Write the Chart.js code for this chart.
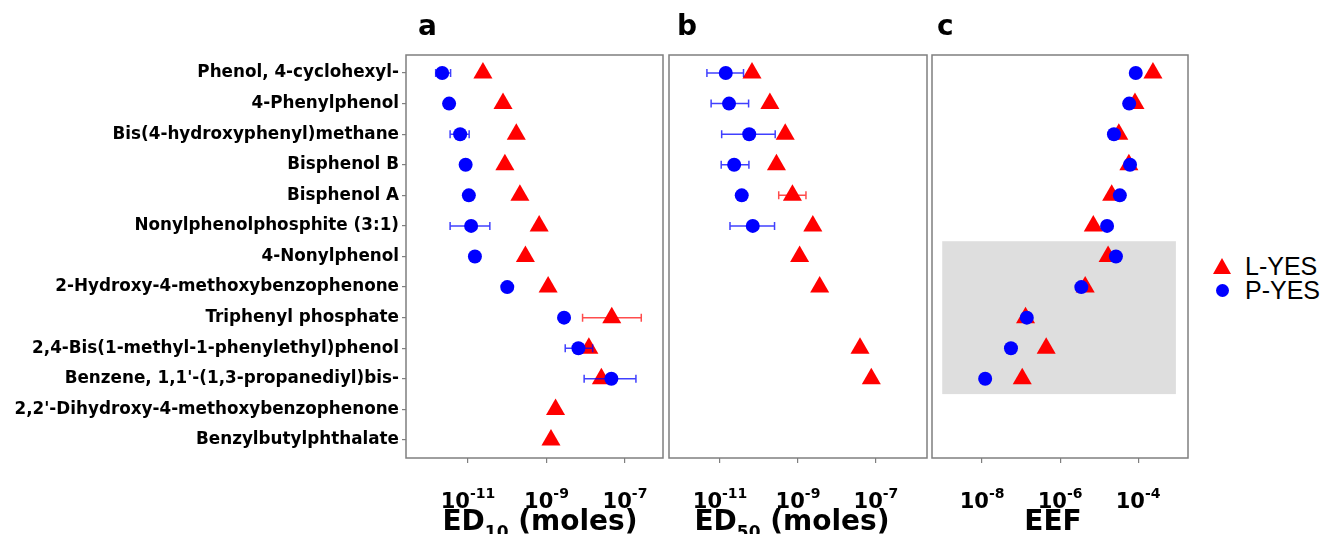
<!DOCTYPE html>
<html>
<head>
<meta charset="utf-8">
<script src="https://cdn.jsdelivr.net/npm/chart.js@4.4.1/dist/chart.umd.min.js"></script>
<style>
  html, body { margin: 0; padding: 0; background: #fff; }
  body { width: 1325px; height: 534px; position: relative; overflow: hidden; }
  canvas { position: absolute; top: 0; }
  .letter { position: absolute; top: 12px; font: bold 28px "DejaVu Sans"; line-height: 28px; }
  .xtitle { position: absolute; top: 507px; text-align: center; font: bold 28px "DejaVu Sans"; line-height: 28px; white-space: nowrap; }
  .xtitle sub { font-size: 17px; vertical-align: baseline; position: relative; top: 8px; }
  #legend { position: absolute; left: 1212px; top: 254px; font: 25px "Liberation Sans"; }
  #legend .row { display: flex; align-items: center; height: 24px; }
  #legend .mark { width: 20px; display: flex; justify-content: center; margin-right: 13px; }
  .tri { width: 0; height: 0; border-left: 9px solid transparent; border-right: 9px solid transparent; border-bottom: 16px solid #ff0000; }
  .dot { width: 13px; height: 13px; border-radius: 50%; background: #0000ff; }
</style>
</head>
<body>
<canvas id="panelA" width="670" height="534" style="left:0px"></canvas>
<canvas id="panelB" width="264" height="534" style="left:666px"></canvas>
<canvas id="panelC" width="262" height="534" style="left:929px"></canvas>

<div class="letter" style="left:418px">a</div>
<div class="letter" style="left:677px">b</div>
<div class="letter" style="left:937px">c</div>

<div class="xtitle" style="left:411px; width:258px">ED<sub>10</sub> (moles)</div>
<div class="xtitle" style="left:663px; width:258px">ED<sub>50</sub> (moles)</div>
<div class="xtitle" style="left:925px; width:256px">EEF</div>

<div id="legend">
  <div class="row"><div class="mark"><div class="tri"></div></div>L-YES</div>
  <div class="row"><div class="mark"><div class="dot"></div></div>P-YES</div>
</div>

<script>
const categories = [
  'Phenol, 4-cyclohexyl-',
  '4-Phenylphenol',
  'Bis(4-hydroxyphenyl)methane',
  'Bisphenol B',
  'Bisphenol A',
  'Nonylphenolphosphite (3:1)',
  '4-Nonylphenol',
  '2-Hydroxy-4-methoxybenzophenone',
  'Triphenyl phosphate',
  '2,4-Bis(1-methyl-1-phenylethyl)phenol',
  "Benzene, 1,1'-(1,3-propanediyl)bis-",
  "2,2'-Dihydroxy-4-methoxybenzophenone",
  'Benzylbutylphthalate'
];

// panel a: ED10 (moles)
const ed10L = [2.4e-11, 7.8e-11, 1.7e-10, 8.7e-11, 2.1e-10, 6.5e-10, 2.9e-10, 1.1e-9, 4.6e-8, 1.2e-8, 2.5e-8, 1.7e-9, 1.3e-9];
const ed10P = [2.2e-12, 3.3e-12, 6.3e-12, 8.7e-12, 1.05e-11, 1.2e-11, 1.5e-11, 1.0e-10, 2.8e-9, 6.5e-9, 4.5e-8, null, null];
const ed10LLo = [null, null, null, null, null, null, null, null, 8.3e-9, null, null, null, null];
const ed10LHi = [null, null, null, null, null, null, null, null, 2.6e-7, null, null, null, null];
const ed10PLo = [1.5e-12, null, 3.5e-12, null, null, 3.5e-12, null, null, null, 3.0e-9, 9.1e-9, null, null];
const ed10PHi = [3.6e-12, null, 1.07e-11, null, null, 3.6e-11, null, null, null, 1.5e-8, 1.9e-7, null, null];

// panel b: ED50 (moles)
const ed50L = [6.6e-11, 1.9e-10, 4.7e-10, 2.8e-10, 7.2e-10, 2.4e-9, 1.1e-9, 3.6e-9, null, 3.9e-8, 7.6e-8, null, null];
const ed50P = [1.4e-11, 1.7e-11, 5.6e-11, 2.3e-11, 3.6e-11, 6.9e-11, null, null, null, null, null, null, null];
const ed50LLo = [null, null, null, null, 3.2e-10, null, null, null, null, null, null, null, null];
const ed50LHi = [null, null, null, null, 1.6e-9, null, null, null, null, null, null, null, null];
const ed50PLo = [4.6e-12, 5.9e-12, 1.1e-11, 1.07e-11, null, 1.8e-11, null, null, null, null, null, null, null];
const ed50PHi = [4.0e-11, 5.4e-11, 2.6e-10, 5.5e-11, null, 2.5e-10, null, null, null, null, null, null, null];

// panel c: EEF
const eefL = [2.4e-4, 8.3e-5, 3.2e-5, 5.8e-5, 2.1e-5, 7.1e-6, 1.7e-5, 4.4e-6, 1.3e-7, 4.4e-7, 1.07e-7, null, null];
const eefP = [8.7e-5, 5.9e-5, 2.4e-5, 6.2e-5, 3.4e-5, 1.6e-5, 2.7e-5, 3.5e-6, 1.4e-7, 5.5e-8, 1.2e-8, null, null];

// shaded block in panel c (rows 7-11)
const shadeRows = [6.5, 11.5];
const shadeEEF = [9.5e-10, 9.3e-4];

const tickExpAB = [-11, -9, -7];
const tickExpC = [-8, -6, -4];

const RED = '#ff0000';
const BLUE = '#0000ff';
const FRAME = '#7f7f7f';

function toPoints(vals) {
  return vals.map((v, i) => v == null ? null : { x: v, y: i + 1 }).filter(p => p);
}

function makePanel(id, cfg) {
  const errorBars = {
    id: 'errorBars',
    afterDatasetsDraw(chart) {
      const ctx = chart.ctx, xs = chart.scales.x, ys = chart.scales.y;
      ctx.save();
      ctx.lineWidth = 1.5;
      cfg.bars.forEach(set => {
        ctx.strokeStyle = set.color;
        set.lo.forEach((lo, i) => {
          const hi = set.hi[i];
          if (lo == null || hi == null) return;
          const y = ys.getPixelForValue(i + 1);
          const x1 = xs.getPixelForValue(lo);
          const x2 = xs.getPixelForValue(hi);
          ctx.beginPath();
          ctx.moveTo(x1, y); ctx.lineTo(x2, y);
          ctx.moveTo(x1, y - 4); ctx.lineTo(x1, y + 4);
          ctx.moveTo(x2, y - 4); ctx.lineTo(x2, y + 4);
          ctx.stroke();
        });
      });
      ctx.restore();
    }
  };

  const shade = {
    id: 'shade',
    beforeDatasetsDraw(chart) {
      if (!cfg.shade) return;
      const ctx = chart.ctx, xs = chart.scales.x, ys = chart.scales.y;
      const x1 = xs.getPixelForValue(shadeEEF[0]), x2 = xs.getPixelForValue(shadeEEF[1]);
      const y1 = ys.getPixelForValue(shadeRows[0]), y2 = ys.getPixelForValue(shadeRows[1]);
      ctx.save();
      ctx.fillStyle = '#dedede';
      ctx.fillRect(x1, y1, x2 - x1, y2 - y1);
      ctx.restore();
    }
  };

  // frame + "10^n" tick labels
  const frame = {
    id: 'frame',
    afterDraw(chart) {
      const ctx = chart.ctx, a = chart.chartArea, xs = chart.scales.x;
      ctx.save();
      ctx.strokeStyle = FRAME;
      ctx.lineWidth = 1.5;
      ctx.strokeRect(a.left, a.top, a.right - a.left, a.bottom - a.top);
      ctx.fillStyle = '#000';
      ctx.textBaseline = 'alphabetic';
      cfg.exps.forEach(e => {
        const x = xs.getPixelForValue(Math.pow(10, e));
        const sup = String(e);
        ctx.font = 'bold 21px "DejaVu Sans"';
        const w1 = ctx.measureText('10').width;
        ctx.font = 'bold 14px "DejaVu Sans"';
        const w2 = ctx.measureText(sup).width;
        const x0 = x - (w1 + w2) / 2;
        ctx.font = 'bold 21px "DejaVu Sans"';
        ctx.fillText('10', x0, 508);
        ctx.font = 'bold 14px "DejaVu Sans"';
        ctx.fillText(sup, x0 + w1, 498);
      });
      ctx.restore();
    }
  };

  return new Chart(document.getElementById(id).getContext('2d'), {
    type: 'scatter',
    data: {
      datasets: [
        {
          label: 'P-YES',
          data: toPoints(cfg.P),
          pointStyle: 'circle',
          pointRadius: 7,
          pointBackgroundColor: BLUE,
          pointBorderWidth: 0,
          order: 1
        },
        {
          label: 'L-YES',
          data: toPoints(cfg.L),
          pointStyle: 'triangle',
          pointRadius: 11,
          pointBackgroundColor: RED,
          pointBorderWidth: 0,
          order: 2
        }
      ]
    },
    options: {
      responsive: false,
      animation: false,
      layout: {
        autoPadding: false,
        padding: { left: cfg.padLeft, right: cfg.padRight, top: 55, bottom: 0 }
      },
      scales: {
        x: {
          type: 'logarithmic',
          min: cfg.xmin,
          max: cfg.xmax,
          afterBuildTicks: (scale) => {
            scale.ticks = cfg.exps.map(e => ({ value: Math.pow(10, e), major: true }));
          },
          afterFit: (scale) => {
            scale.height = 76;
            scale.paddingLeft = 0;
            scale.paddingRight = 0;
          },
          ticks: { display: false },
          border: { display: false },
          grid: { drawOnChartArea: false, drawTicks: true, tickLength: 5, color: FRAME, lineWidth: 1.2 }
        },
        y: {
          type: 'linear',
          reverse: true,
          min: 0.41,
          max: 13.59,
          display: cfg.showY,
          afterBuildTicks: (scale) => {
            scale.ticks = categories.map((c, i) => ({ value: i + 1 }));
          },
          afterFit: (scale) => { if (cfg.showY) scale.width = 406; },
          ticks: {
            callback: (v) => categories[v - 1],
            color: '#000',
            padding: 3,
            font: { family: 'DejaVu Sans', size: 16.8, weight: 'bold' }
          },
          border: { display: false },
          grid: { drawOnChartArea: false, drawTicks: true, tickLength: 4, color: FRAME, lineWidth: 1.2 }
        }
      },
      plugins: {
        legend: { display: false },
        tooltip: { enabled: false }
      }
    },
    plugins: [shade, errorBars, frame]
  });
}

makePanel('panelA', {
  L: ed10L, P: ed10P,
  bars: [
    { lo: ed10PLo, hi: ed10PHi, color: 'rgba(0,0,255,0.75)' },
    { lo: ed10LLo, hi: ed10LHi, color: 'rgba(255,0,0,0.7)' }
  ],
  xmin: 2.63e-13, xmax: 9.3e-7,
  exps: tickExpAB, showY: true, padLeft: 0, padRight: 7
});

makePanel('panelB', {
  L: ed50L, P: ed50P,
  bars: [
    { lo: ed50PLo, hi: ed50PHi, color: 'rgba(0,0,255,0.75)' },
    { lo: ed50LLo, hi: ed50LHi, color: 'rgba(255,0,0,0.7)' }
  ],
  xmin: 4.9e-13, xmax: 2.04e-6,
  exps: tickExpAB, showY: false, padLeft: 3, padRight: 3
});

makePanel('panelC', {
  L: eefL, P: eefP,
  bars: [],
  shade: true,
  xmin: 5.2e-10, xmax: 1.9e-3,
  exps: tickExpC, showY: false, padLeft: 3, padRight: 3
});
</script>
</body>
</html>
